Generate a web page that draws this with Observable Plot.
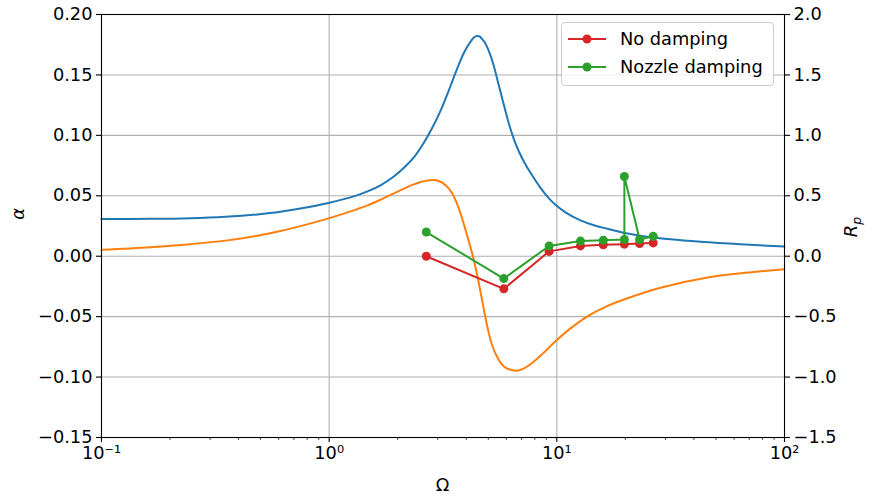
<!DOCTYPE html>
<html>
<head>
<meta charset="utf-8">
<script src="https://cdn.jsdelivr.net/npm/d3@7"></script>
<script src="https://cdn.jsdelivr.net/npm/@observablehq/plot@0.6"></script>
<style>
  html, body { margin: 0; padding: 0; background: #fff; }
  #wrap { position: relative; width: 869px; height: 500px; font-family: "DejaVu Sans", sans-serif; font-size: 17.8px; color: #000; }
  .lbl { position: absolute; white-space: nowrap; line-height: 1; }
  .legend { position: absolute; box-sizing: border-box; border: 1px solid #cccccc; border-radius: 4px; background: rgba(255,255,255,0.8); }
  .legend .item { position: absolute; left: 0; white-space: nowrap; line-height: 1; }
  .legend svg { position: absolute; left: 0; overflow: visible; }
</style>
</head>
<body>
<div id="wrap"></div>
<script>
// Frequency response curves (left axis, alpha)
const blueOmega = [0.1, 0.1641, 0.2460, 0.3504, 0.4829, 0.6112, 0.7482, 1.003, 1.241, 1.474, 1.681, 1.917, 2.164, 2.394, 2.604, 2.815, 3.083, 3.309, 3.527, 3.700, 3.890, 4.053, 4.220, 4.349, 4.460, 4.575, 4.669, 4.813, 4.960, 5.112, 5.270, 5.433, 5.656, 5.889, 6.195, 6.516, 6.855, 7.211, 7.661, 8.476, 9.192, 9.865, 10.91, 12.70, 14.79, 16.69, 19.63, 23.31, 31.56, 42.76, 64.09, 100];
const blueAlpha = [0.0307, 0.0309, 0.0315, 0.0327, 0.0346, 0.0367, 0.0394, 0.0443, 0.0487, 0.0537, 0.0587, 0.0657, 0.0744, 0.0835, 0.0938, 0.1050, 0.1203, 0.1344, 0.1480, 0.1580, 0.1675, 0.1737, 0.1786, 0.1814, 0.1822, 0.1819, 0.1803, 0.1772, 0.1724, 0.1662, 0.1584, 0.1489, 0.1360, 0.1232, 0.1079, 0.0955, 0.0856, 0.0774, 0.0690, 0.0566, 0.0483, 0.0425, 0.0363, 0.0297, 0.0252, 0.0227, 0.0195, 0.0170, 0.0140, 0.0119, 0.0098, 0.0080];

const orangeOmega = [0.1, 0.1641, 0.2460, 0.3504, 0.4829, 0.6112, 0.7482, 1.003, 1.241, 1.474, 1.681, 1.917, 2.121, 2.323, 2.518, 2.703, 2.872, 3.021, 3.178, 3.309, 3.412, 3.517, 3.625, 3.775, 3.931, 4.093, 4.263, 4.438, 4.621, 4.813, 5.010, 5.217, 5.433, 5.656, 5.950, 6.322, 6.718, 7.138, 7.661, 8.476, 9.865, 11.48, 13.63, 16.36, 20.43, 28.53, 45.89, 67.42, 100];
const orangeAlpha = [0.0053, 0.0075, 0.0100, 0.0129, 0.0169, 0.0208, 0.0249, 0.0315, 0.0371, 0.0421, 0.0467, 0.0518, 0.0557, 0.0590, 0.0614, 0.0627, 0.0630, 0.0622, 0.0601, 0.0572, 0.0541, 0.0501, 0.0446, 0.0355, 0.0247, 0.0132, 0.0012, -0.0129, -0.0295, -0.0468, -0.0626, -0.0745, -0.0824, -0.0880, -0.0922, -0.0942, -0.0947, -0.0930, -0.0894, -0.0824, -0.0704, -0.0597, -0.0497, -0.0419, -0.0348, -0.0261, -0.0176, -0.0137, -0.0107];

// Measured pressure response (right axis, R_p)
const noDampOmega = [2.67, 5.85, 9.25, 12.7, 16.0, 19.8, 23.1, 26.5];
const noDampRp = [0.0, -0.27, 0.04, 0.085, 0.095, 0.10, 0.105, 0.11];

const nozzleOmega = [2.67, 5.85, 9.25, 12.7, 16.0, 19.8, 19.8, 23.1, 26.5];
const nozzleRp = [0.20, -0.185, 0.085, 0.125, 0.133, 0.138, 0.66, 0.138, 0.165];

// Axis ticks
const xTicks = [0.1, 1, 10, 100];
const xTickLabels = ["10\u207B\u00B9", "10\u2070", "10\u00B9", "10\u00B2"];
const alphaTicks = [-0.15, -0.10, -0.05, 0.0, 0.05, 0.10, 0.15, 0.20];
const rpTicks = [-1.5, -1.0, -0.5, 0.0, 0.5, 1.0, 1.5, 2.0];

const seriesNames = ["No damping", "Nozzle damping"];
const seriesColors = ["#d62728", "#2ca02c"];
const curveColors = ["#1f77b4", "#ff7f0e"];

// Right axis shares the left y scale: R_p = 10 * alpha
const rpScale = 10;

const minorTicks = [];
for (const decade of [0.1, 1, 10]) for (let k = 2; k <= 9; k++) minorTicks.push(+(k * decade).toPrecision(3));

const blue = blueOmega.map((o, i) => ({omega: o, alpha: blueAlpha[i]}));
const orange = orangeOmega.map((o, i) => ({omega: o, alpha: orangeAlpha[i]}));
const noDamp = noDampOmega.map((o, i) => ({omega: o, rp: noDampRp[i]}));
const nozzle = nozzleOmega.map((o, i) => ({omega: o, rp: nozzleRp[i]}));

const fmt2 = d3.format(".2f");
const fmt1 = d3.format(".1f");
const gridStyle = {stroke: "#b0b0b0", strokeOpacity: 1, strokeWidth: 1.1};

const chart = Plot.plot({
  width: 869,
  height: 500,
  marginLeft: 101,
  marginRight: 85,
  marginTop: 14,
  marginBottom: 63,
  style: {fontFamily: "DejaVu Sans, sans-serif", fontSize: "17.8px", color: "#000", background: "#fff", overflow: "visible"},
  x: {type: "log", domain: [0.1, 100], label: null},
  y: {domain: [-0.15, 0.20], label: null},
  marks: [
    Plot.gridX([1, 10], gridStyle),
    Plot.gridY(alphaTicks, gridStyle),
    Plot.line(blue, {x: "omega", y: "alpha", stroke: curveColors[0], strokeWidth: 2, curve: "catmull-rom"}),
    Plot.line(orange, {x: "omega", y: "alpha", stroke: curveColors[1], strokeWidth: 2, curve: "catmull-rom"}),
    Plot.line(noDamp, {x: "omega", y: d => d.rp / rpScale, stroke: seriesColors[0], strokeWidth: 2}),
    Plot.dot(noDamp, {x: "omega", y: d => d.rp / rpScale, r: 4.5, fill: seriesColors[0], stroke: "none"}),
    Plot.line(nozzle, {x: "omega", y: d => d.rp / rpScale, stroke: seriesColors[1], strokeWidth: 2}),
    Plot.dot(nozzle, {x: "omega", y: d => d.rp / rpScale, r: 4.5, fill: seriesColors[1], stroke: "none"}),
    Plot.frame({stroke: "#000", strokeWidth: 1.1}),
    Plot.axisX(minorTicks, {anchor: "bottom", tickSize: 2.8, tickFormat: () => "", label: null, strokeWidth: 0.8}),
    Plot.axisX(xTicks, {anchor: "bottom", tickSize: 5, tickPadding: 4, tickFormat: d => xTickLabels[xTicks.indexOf(d)], label: null, strokeWidth: 1.1}),
    Plot.axisY(alphaTicks, {anchor: "left", tickSize: 5, tickPadding: 4, tickFormat: d => fmt2(d), label: null, strokeWidth: 1.1}),
    Plot.axisY(rpTicks.map(v => v / rpScale), {anchor: "right", tickSize: 5, tickPadding: 4, tickFormat: d => fmt1(d * rpScale), label: null, strokeWidth: 1.1})
  ]
});

const wrap = document.getElementById("wrap");
wrap.appendChild(chart);

// Axis titles
function addLabel(html, cx, cy, rotate, extra) {
  const el = document.createElement("div");
  el.className = "lbl";
  el.innerHTML = html;
  el.style.left = cx + "px";
  el.style.top = cy + "px";
  el.style.transform = "translate(-50%, -50%)" + (rotate ? " rotate(-90deg)" : "");
  if (extra) Object.assign(el.style, extra);
  wrap.appendChild(el);
}
addLabel("\u03B1", 18, 214, true, {fontStyle: "italic"});
addLabel("\u03A9", 442.5, 485, false);
addLabel("<i>R</i><sub style=\"font-size:0.7em;vertical-align:-0.3em\"><i>p</i></sub>", 853, 227, true);

// Legend
const legend = document.createElement("div");
legend.className = "legend";
Object.assign(legend.style, {left: "561px", top: "22px", width: "213px", height: "64px"});
seriesNames.forEach((name, i) => {
  const cy = 15.5 + i * 28.4;
  const svg = d3.create("svg").attr("width", 50).attr("height", 12)
    .style("top", (cy - 6) + "px").style("left", "0px");
  svg.append("line").attr("x1", 6).attr("x2", 44).attr("y1", 6).attr("y2", 6)
    .attr("stroke", seriesColors[i]).attr("stroke-width", 2);
  svg.append("circle").attr("cx", 25).attr("cy", 6).attr("r", 4.5).attr("fill", seriesColors[i]);
  legend.appendChild(svg.node());
  const t = document.createElement("div");
  t.className = "item";
  t.textContent = name;
  t.style.left = "58px";
  t.style.top = (cy - 8.5) + "px";
  legend.appendChild(t);
});
wrap.appendChild(legend);
</script>
</body>
</html>
